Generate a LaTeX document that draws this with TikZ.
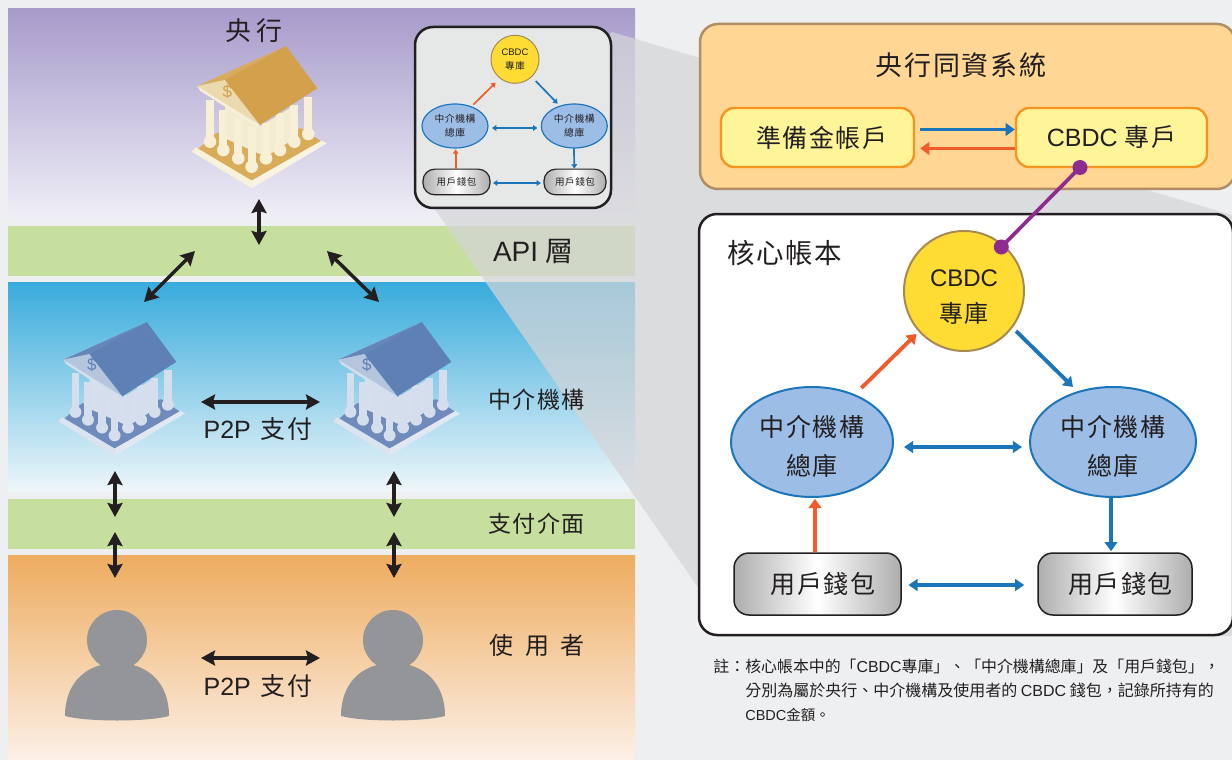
\documentclass[tikz,border=0pt]{standalone}
\usepackage{fontspec}
\usetikzlibrary{arrows.meta,shapes.geometric,calc}
\setmainfont{Liberation Sans}
\newfontfamily\cj[LetterSpace=6]{Noto Sans CJK TC}
\newfontfamily\cjn{Noto Sans CJK TC}
\newcommand{\fs}[1]{\pgfmathsetmacro\fsz{#1*0.6}\fontsize{\fsz}{\fsz}\selectfont}
\definecolor{pagebg}{HTML}{EDEFF1}
\definecolor{arrB}{HTML}{1B75BB}
\definecolor{arrO}{HTML}{F15A29}
\definecolor{txt}{HTML}{231F20}
\definecolor{yel}{HTML}{FFDC33}
\definecolor{ellF}{HTML}{9CBDE6}
\definecolor{grn}{HTML}{C6DF9E}
\definecolor{person}{HTML}{939598}
\definecolor{coinE}{HTML}{A8894F}
\definecolor{goldA}{HTML}{D3A04B}
\definecolor{goldB}{HTML}{D8AC58}
\definecolor{goldC}{HTML}{EBDAAE}
\definecolor{goldD}{HTML}{F7EFD6}
\definecolor{goldE}{HTML}{D9AC5A}
\definecolor{blueA}{HTML}{5E80B4}
\definecolor{blueB}{HTML}{6685B8}
\definecolor{blueC}{HTML}{B5C5DE}
\definecolor{blueD}{HTML}{D5DEEC}
\definecolor{blueE}{HTML}{6E8BBB}
\definecolor{orboxF}{HTML}{FFD693}
\definecolor{orboxE}{HTML}{B08D65}
\definecolor{yboxF}{HTML}{FFF498}
\definecolor{yboxE}{HTML}{F7941E}
\definecolor{purp}{HTML}{8E2A90}
\newcommand{\bankpic}[9]{% name,x,y,scale,roof,sliver,gable,col,basetop
 \begin{scope}[shift={(#2,#3)},scale=#4]
  \fill[#9] (50,420) -- (215,512) -- (425,395) -- (365,355) -- (110,368) -- cycle;
  \fill[#8!85!white] (35,425) -- (215,535) -- (215,512) -- (48,412) -- cycle;
  \fill[#8!70!white] (215,512) -- (215,535) -- (440,400) -- (425,392) -- cycle;
  \fill[#7!55!white] (135,285) -- (240,350) -- (345,285) -- (345,385) -- (258,440) -- (135,385) -- cycle;
  \fill[#7!90!black] (163,345) rectangle (172,410);
  \foreach \xa/\ta/\ba in {343/285/395,300/310/420,258/340/445,385/260/372,90/270/395,130/300/420,175/325/445,215/350/470}{
    \fill[#8] (\xa-12,\ta) rectangle (\xa+12,\ba);
    \fill[#8] (\xa,\ba) circle[radius=19];
  }
  \fill[#6] (52,228) -- (318,108) -- (135,210) -- cycle;
  \fill[#8] (52,228) -- (60,242) -- (235,355) -- (240,345) -- cycle;
  \fill[#7] (52,228) -- (135,210) -- (240,345) -- cycle;
  \fill[#5] (135,210) -- (318,108) -- (412,235) -- (240,345) -- cycle;
  \node[inner sep=0pt,text=#5] (#1) at (142,245) {\fs{17}\$};
 \end{scope}}
\newcommand{\personpic}[1]{%
  \fill[person] (#1,640) circle[radius=30];
  \fill[person] (#1-52,716) .. controls (#1-52,682) and (#1-30,663) .. (#1,663) .. controls (#1+30,663) and (#1+52,682) .. (#1+52,716) .. controls (#1+30,722) and (#1-30,722) .. cycle;}
\tikzset{
  bigarrow/.style={line width=2.1pt,{Stealth[length=8.4pt,width=9pt,inset=1.2pt]}-{Stealth[length=8.4pt,width=9pt,inset=1.2pt]},draw=txt},
  blueDb/.style={line width=2.3pt,draw=arrB,{Triangle[length=5.5pt,width=7pt]}-{Triangle[length=5.5pt,width=7pt]}},
  blueSb/.style={line width=2.3pt,draw=arrB,-{Triangle[length=5.5pt,width=7.5pt]}},
  orSb/.style={line width=2.3pt,draw=arrO,-{Triangle[length=5.5pt,width=7.5pt]}},
  blueDs/.style={line width=1pt,draw=arrB,{Triangle[length=2.6pt,width=3.4pt]}-{Triangle[length=2.6pt,width=3.4pt]}},
  blueSs/.style={line width=1pt,draw=arrB,-{Triangle[length=2.6pt,width=3.4pt]}},
  orSs/.style={line width=1pt,draw=arrO,-{Triangle[length=2.6pt,width=3.4pt]}},
  lab/.style={inner sep=0pt,text=txt},
  coin/.style={circle,draw=coinE,fill=yel,inner sep=0pt,align=center,text=txt},
  egg/.style={ellipse,draw=arrB,fill=ellF,inner sep=0pt,align=center,text=txt},
  pill/.style={rectangle,draw=txt,left color=black!32,right color=black!32,middle color=white,inner sep=0pt,text=txt},
  ybox/.style={rectangle,rounded corners=8pt,draw=yboxE,line width=1.4pt,fill=yboxF,minimum height=35.4pt,inner sep=0pt,text=txt},
  bigbox/.style={rectangle,rounded corners=10.8pt,line width=1.5pt,inner sep=0pt},
}
\begin{document}
\begin{tikzpicture}[x=0.6pt,y=-0.6pt]
\useasboundingbox (0,0) rectangle (1232,760);
\fill[pagebg] (0,0) rectangle (1232,760);
% bands
\shade[top color={rgb,255:red,167;green,155;blue,203},bottom color={rgb,255:red,240;green,239;blue,247}] (8,9) rectangle (635,219);
\fill[grn] (8,226) rectangle (635,276);
\shade[top color={rgb,255:red,56;green,171;blue,220},bottom color={rgb,255:red,238;green,246;blue,249}] (8,282) rectangle (635,491);
\fill[grn] (8,499) rectangle (635,549);
\shade[top color={rgb,255:red,238;green,172;blue,95},bottom color={rgb,255:red,252;green,240;blue,231}] (8,555) rectangle (635,760);
% zoom wedge
\fill[fill={rgb,255:red,212;green,213;blue,216},fill opacity=0.72] (612,32) -- (1232,215) -- (1232,636) -- (732,636) -- (434,208) -- cycle;
% banks
\bankpic{dollarA}{180}{10}{1/3}{goldA}{goldB}{goldC}{goldD}{goldE}
\bankpic{dollarB}{47.3}{288.3}{0.313}{blueA}{blueB}{blueC}{blueD}{blueE}
\bankpic{dollarC}{322.3}{288.3}{0.313}{blueA}{blueB}{blueC}{blueD}{blueE}
\personpic{117}
\personpic{393}
% left labels
\node[lab] (tCB) at (254,31) {\fs{26}\cj 央\,行};
\node[lab] (tAPI) at (533.5,252) {\fs{28}API {\cj 層}};
\node[lab] (tFI) at (536.5,400) {\fs{23}\cj 中介機構};
\node[lab] (tPI) at (536.5,524) {\fs{23}\cj 支付介面};
\node[lab] (tUS) at (537.5,645) {\fs{24}\cj 使\hspace{0.48em}用\hspace{0.48em}者};
\node[lab] (tP1) at (258,429) {\fs{25}P2P\hspace{0.4em}{\cj 支付}};
\node[lab] (tP2) at (258,686) {\fs{25}P2P\hspace{0.4em}{\cj 支付}};
% black arrows
\coordinate (a1) at (259,199); \coordinate (a2) at (259,245);
\coordinate (b1) at (195,251); \coordinate (b2) at (144,302);
\coordinate (c1) at (327,251); \coordinate (c2) at (379,302);
\coordinate (d1) at (201,402); \coordinate (d2) at (320,402);
\coordinate (e1) at (115,471); \coordinate (e2) at (115,517);
\coordinate (f1) at (115,532); \coordinate (f2) at (115,578);
\coordinate (g1) at (394,471); \coordinate (g2) at (394,517);
\coordinate (h1) at (394,532); \coordinate (h2) at (394,578);
\coordinate (i1) at (201,658); \coordinate (i2) at (320,658);
\foreach \p in {a,b,c,d,e,f,g,h,i}{\draw[bigarrow] (\p1) -- (\p2);}
% inset
\node[bigbox,draw=txt,fill={rgb,255:red,230;green,232;blue,232},minimum width=117.6pt,minimum height=108.6pt] (inset) at (513,117.5) {};
\node[coin,line width=0.6pt,minimum size=28.8pt,font=\fs{9.5}] (iC) at (515,59.3) {CBDC\\[2.7pt]{\cj 專庫}};
\node[egg,line width=0.7pt,minimum width=39.6pt,minimum height=26.4pt,font=\fs{9.8}] (iL) at (455,126) {{\cj 中介機構}\\[2.7pt]{\cj 總庫}};
\node[egg,line width=0.7pt,minimum width=39.6pt,minimum height=26.4pt,font=\fs{9.8}] (iR) at (574.3,126) {{\cj 中介機構}\\[2.7pt]{\cj 總庫}};
\node[pill,line width=0.7pt,rounded corners=7pt,minimum width=40.2pt,minimum height=15.4pt] (iWL) at (456.5,182) {\cj\fs{9.5}用戶錢包};
\node[pill,line width=0.7pt,rounded corners=7pt,minimum width=37.2pt,minimum height=15.4pt] (iWR) at (575,182) {\cj\fs{9.5}用戶錢包};
\draw[orSs] ($(iL.center)+(11pt,12.8pt)$) -- ($(iC.center)+(-11.6pt,-14pt)$);
\draw[blueSs] ($(iC.center)+(12.4pt,-13pt)$) -- ($(iR.center)+(-10pt,13.4pt)$);
\draw[blueDs,shorten <=2pt,shorten >=2pt] ([yshift=-1.2pt]iL.east) -- ([yshift=-1.2pt]iR.west);
\draw[orSs,shorten >=.5pt] (iWL.north -| iL.south) ++(0.4pt,0) -- ([xshift=0.4pt]iL.south);
\draw[blueSs] ([xshift=-0.2pt]iR.south) -- (iR.south |- iWR.north);
\draw[blueDs,shorten <=1.5pt,shorten >=1.5pt] ([yshift=-0.6pt]iWL.east) -- ([yshift=-0.6pt]iWR.west);
% settlement system
\node[bigbox,draw=orboxE,fill=orboxF,minimum width=321pt,minimum height=99pt] (rtgs) at (967.5,106.5) {};
\node[lab] (tRT) at (961,65) {\fs{27}\cj 央行同資系統};
\node[ybox,minimum width=115.8pt] (res) at (817.5,137.5) {\hspace*{4.8pt}\fs{25}\cj 準備金帳戶};
\node[ybox,minimum width=114.6pt] (acc) at (1111.5,137.5) {\fs{25}CBDC {\cj 專戶}};
\draw[blueSb] ([yshift=4.8pt,xshift=3pt]res.east) -- ([yshift=4.8pt]acc.west);
\draw[orSb] ([yshift=-6.6pt]acc.west) -- ([yshift=-6.6pt,xshift=3pt]res.east);
% core ledger
\node[bigbox,draw=txt,fill=white,minimum width=320.4pt,minimum height=252.6pt] (core) at (966,424.5) {};
\node[lab,anchor=west] (tCore) at (727,253) {\fs{27.5}\cj 核心帳本};
\node[coin,line width=1.2pt,minimum size=72pt,font=\fs{24}] (cC) at (964,291) {\rule{0pt}{17.5pt}CBDC\\[7.2pt]{\cj 專庫}};
\node[egg,line width=1.2pt,minimum width=97.2pt,minimum height=66pt,font=\fs{25}] (eL) at (812,442) {{\rule{0pt}{18pt}\cj 中介機構}\\[8.2pt]{\cj 總庫}};
\node[egg,line width=1.2pt,minimum width=99.6pt,minimum height=66pt,font=\fs{25}] (eR) at (1113,442) {{\rule{0pt}{18pt}\cj 中介機構}\\[8.2pt]{\cj 總庫}};
\node[pill,line width=0.9pt,rounded corners=9pt,minimum width=100.2pt,minimum height=37.2pt] (wL) at (817.5,584) {\hspace*{6.6pt}\fs{25}\cj 用戶錢包};
\node[pill,line width=0.9pt,rounded corners=9pt,minimum width=92.4pt,minimum height=37.2pt] (wR) at (1115,584) {\hspace*{6.6pt}\fs{25}\cj 用戶錢包};
\draw[orSb,shorten <=5.4pt,shorten >=1.8pt] (eL.48) -- (cC.222);
\draw[blueSb] ($(cC.center)+(31.2pt,-24pt)$) -- ($(eR.center)+(-24pt,33pt)$);
\draw[blueDb,shorten <=6pt,shorten >=4.2pt] ([yshift=-3pt]eL.east) -- ([yshift=-3pt]eR.west);
\draw[orSb,shorten >=.5pt] ([xshift=-1.5pt]wL.north) -- ([xshift=1.8pt]eL.south);
\draw[blueSb] ([xshift=-1.2pt]eR.south) -- ([xshift=-2.4pt,yshift=.6pt]wR.north);
\draw[blueDb,shorten <=4pt,shorten >=7.8pt] ([yshift=-0.6pt]wL.east) -- ([yshift=-0.6pt]wR.west);
% purple link
\coordinate (pA) at ($(acc.center)+(-18.9pt,-18pt)$);
\coordinate (pB) at ($(cC.center)+(22.4pt,26.4pt)$);
\draw[purp,line width=2.2pt] (pA) -- (pB);
\fill[purp] (pA) circle[radius=7.5] (pB) circle[radius=7.5];
% note
\node[lab,anchor=west] (n0) at (713,666) {\fs{16}\cjn 註：};
\node[lab,anchor=west] (n1) at (745,666) {\fs{15.9}\cjn 核心帳本中的「{\rmfamily CBDC}專庫」、「中介機構總庫」及「用戶錢包」，};
\node[lab,anchor=west] (n2) at (745,690) {\fs{16}\cjn 分別為屬於央行、中介機構及使用者的 {\rmfamily CBDC} 錢包，記錄所持有的};
\node[lab,anchor=west] (n3) at (745,715) {\fs{14.5}{\rmfamily CBDC}\cjn 金額。};
\end{tikzpicture}
\end{document}
